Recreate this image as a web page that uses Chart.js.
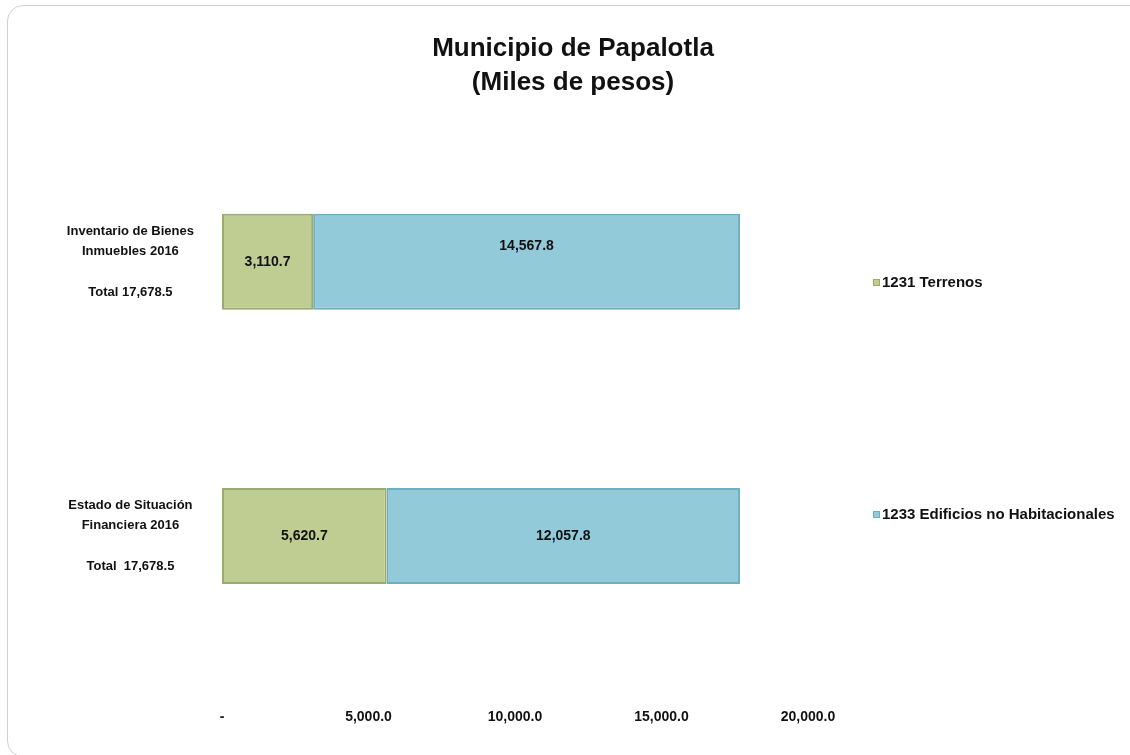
<!DOCTYPE html>
<html>
<head>
<meta charset="utf-8">
<script src="https://cdn.jsdelivr.net/npm/chart.js@4"></script>
<style>
  html, body { margin: 0; padding: 0; background: #ffffff; overflow: hidden; }
  #wrap { position: relative; width: 1130px; height: 755px; }
  #frame { position: absolute; left: 7px; top: 5px; width: 1200px; height: 752px;
           border: 1px solid #cfcfcf; border-radius: 16px; box-sizing: border-box; pointer-events: none; }
  canvas { position: absolute; left: 0; top: 0; }
</style>
</head>
<body>
<div id="wrap">
  <canvas id="c" width="1130" height="755"></canvas>
  <div id="frame"></div>
</div>
<script>
const FONT = '"Liberation Sans Narrow", "Arial Narrow", "Liberation Sans", Arial, sans-serif';

const categories = [
  ['Inventario de Bienes', 'Inmuebles 2016', '', 'Total 17,678.5'],
  ['Estado de Situación', 'Financiera 2016', '', 'Total  17,678.5']
];
const seriesNames = ['1231 Terrenos', '1233 Edificios no Habitacionales'];
const terrenos = [3110.7, 5620.7];
const edificios = [14567.8, 12057.8];
const xTicks = [0, 5000, 10000, 15000, 20000];
const titleLines = ['Municipio de Papalotla', '(Miles de pesos)'];

const fmt = v => v === 0 ? '-' : v.toLocaleString('en-US', {minimumFractionDigits: 1, maximumFractionDigits: 1});

const valueLabels = {
  id: 'valueLabels',
  afterDatasetsDraw(chart) {
    const ctx = chart.ctx;
    ctx.save();
    ctx.font = 'bold 14px ' + FONT;
    ctx.fillStyle = '#111';
    ctx.textAlign = 'center';
    ctx.textBaseline = 'middle';
    chart.data.datasets.forEach((ds, di) => {
      const meta = chart.getDatasetMeta(di);
      meta.data.forEach((bar, i) => {
        const p = bar.getProps(['x', 'y', 'base'], true);
        const lift = (di === 1 && i === 0) ? 16 : 0;
        ctx.fillText(fmt(ds.data[i]), (p.x + p.base) / 2, p.y - lift);
      });
    });
    ctx.restore();
  }
};

const sideLegend = {
  id: 'sideLegend',
  afterDraw(chart) {
    const ctx = chart.ctx;
    const ys = [283, 515];
    ctx.save();
    ctx.font = 'bold 15px ' + FONT;
    ctx.textBaseline = 'middle';
    ctx.textAlign = 'left';
    chart.data.datasets.forEach((ds, i) => {
      const y = ys[i];
      ctx.fillStyle = ds.backgroundColor;
      ctx.fillRect(873, y - 4, 7, 7);
      ctx.strokeStyle = ds.borderColor;
      ctx.lineWidth = 1;
      ctx.strokeRect(873.5, y - 3.5, 6, 6);
      ctx.fillStyle = '#111';
      ctx.fillText(ds.label, 882, y);
    });
    ctx.restore();
  }
};

new Chart(document.getElementById('c'), {
  type: 'bar',
  data: {
    labels: categories,
    datasets: [
      { label: seriesNames[0], data: terrenos, backgroundColor: '#BFCC92', borderColor: '#9AAB6E', borderWidth: 2, borderSkipped: false },
      { label: seriesNames[1], data: edificios, backgroundColor: '#93CAD9', borderColor: '#6EAEC0', borderWidth: 2, borderSkipped: false }
    ]
  },
  options: {
    responsive: false,
    animation: false,
    indexAxis: 'y',
    devicePixelRatio: 1,
    layout: { padding: { left: 16, right: 0, top: 0, bottom: 0 } },
    datasets: { bar: { barPercentage: 0.35, categoryPercentage: 1 } },
    plugins: {
      legend: { display: false },
      tooltip: { enabled: false },
      title: {
        display: true,
        text: titleLines,
        color: '#111',
        font: { family: FONT, size: 26, weight: 'bold', lineHeight: 1.3 },
        padding: { top: 32, bottom: 25 }
      }
    },
    scales: {
      x: {
        stacked: true,
        min: 0, max: 20000,
        afterBuildTicks(scale) { scale.ticks = xTicks.map(v => ({ value: v })); },
        afterFit(scale) { scale.height = 82; },
        grid: { display: false, drawTicks: false },
        border: { display: false },
        ticks: {
          padding: 36,
          color: '#111',
          font: { family: FONT, size: 14, weight: 'bold' },
          callback: v => fmt(v),
          maxRotation: 0
        }
      },
      y: {
        stacked: true,
        afterFit(scale) { scale.width = 206; },
        grid: { display: false, drawTicks: false },
        border: { display: false },
        ticks: {
          padding: 28,
          crossAlign: 'center',
          color: '#111',
          font: { family: FONT, size: 13, weight: 'bold', lineHeight: 1.55 }
        }
      },
      yRight: {
        type: 'category',
        position: 'right',
        afterFit(scale) { scale.width = 322; },
        grid: { display: false, drawTicks: false },
        border: { display: false },
        ticks: { display: false }
      }
    }
  },
  plugins: [valueLabels, sideLegend]
});
</script>
</body>
</html>
